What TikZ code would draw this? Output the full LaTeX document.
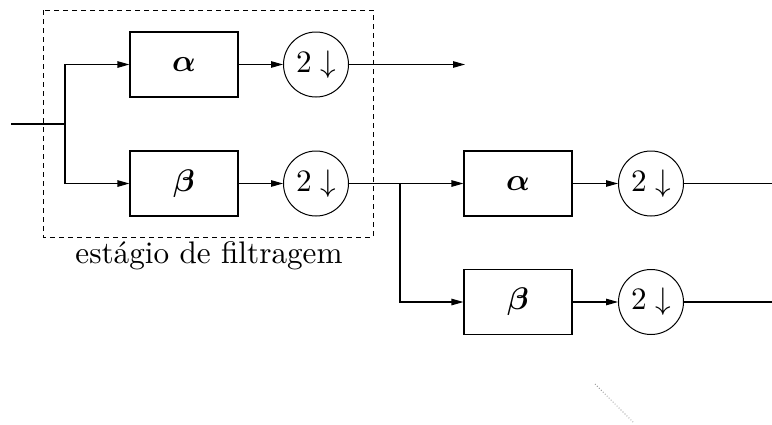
\documentclass[tikz,border=0pt]{standalone}
\usepackage{amsmath,bm,graphicx}
\usetikzlibrary{arrows.meta}
\newcommand{\bigtxt}[1]{\scalebox{3.12}{#1}}
\begin{document}
\begin{tikzpicture}[x=1pt,y=-1pt,
  conn/.style={line width=1.1pt},
  arr/.style={conn,-{Triangle[length=12pt,width=6.5pt]}},
  blk/.style={draw,line width=1.1pt,minimum width=108pt,minimum height=65pt,inner sep=0pt},
  dec/.style={draw,circle,line width=1pt,minimum size=65pt,inner sep=0pt},
  frame/.style={line width=1pt,dash pattern=on 5pt off 4pt}]
\useasboundingbox (0,0) rectangle (772,424);
% first stage
\node[blk] (a1) at (184,64.5) {\bigtxt{$\bm{\alpha}$}};
\node[blk] (b1) at (184,183.5) {\bigtxt{$\bm{\beta}$}};
\node[dec] (c1) at (316,64.5) {\bigtxt{$2\downarrow$}};
\node[dec] (c2) at (316,183.5) {\bigtxt{$2\downarrow$}};
\coordinate (in) at (11,124);
\coordinate (j1) at (65,124);
\coordinate (o1) at (465,64.5);
\draw[conn] (in) -- (j1);
\draw[arr] (j1) |- (a1.west);
\draw[arr] (j1) |- (b1.west);
\draw[arr] (a1) -- (c1);
\draw[arr] (b1) -- (c2);
\draw[arr] (c1) -- (o1);
\draw[frame] (43,10) rectangle (373,237);
\node[anchor=base] (lbl) at (209,263) {\bigtxt{estágio de filtragem}};
% second stage
\node[blk] (a2) at (518,183.5) {\bigtxt{$\bm{\alpha}$}};
\node[blk] (b2) at (518,302) {\bigtxt{$\bm{\beta}$}};
\node[dec] (c3) at (651,183.5) {\bigtxt{$2\downarrow$}};
\node[dec] (c4) at (651,302) {\bigtxt{$2\downarrow$}};
\coordinate (j2) at (400,183.5);
\coordinate (o3) at (772,183.5);
\coordinate (o4) at (772,302);
\draw[arr] (c2) -- (a2);
\draw[arr] (j2) |- (b2.west);
\draw[arr] (a2) -- (c3);
\draw[arr] (b2) -- (c4);
\draw[conn] (c3) -- (o3);
\draw[conn] (c4) -- (o4);
% continuation
\coordinate (d1) at (595,384);
\coordinate (d2) at (633,422);
\draw[gray,line width=0.8pt,dotted] (d1) -- (d2);
\end{tikzpicture}
\end{document}
